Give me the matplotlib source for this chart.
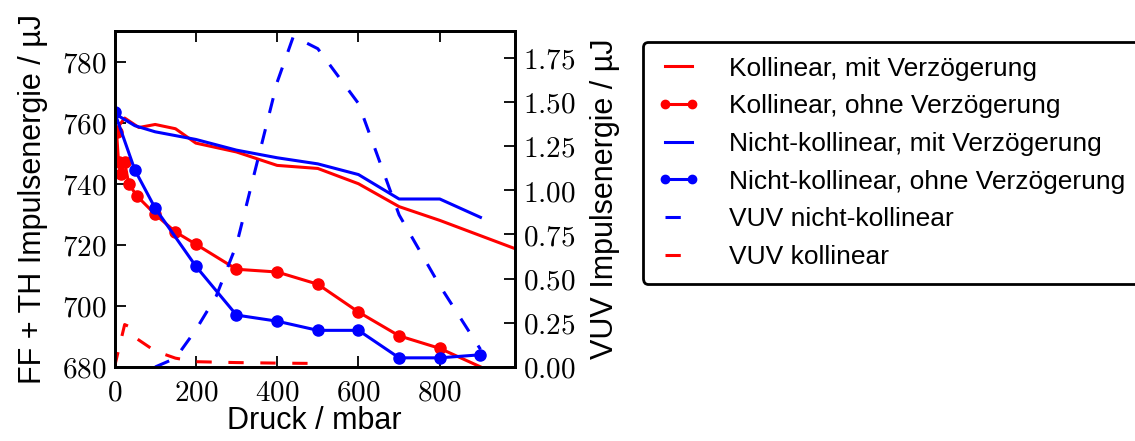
import numpy as np
import matplotlib
matplotlib.use('Agg')
import matplotlib.pyplot as plt
from matplotlib.ticker import MultipleLocator, FuncFormatter

plt.rcParams['font.family'] = ['Liberation Sans', 'DejaVu Sans']
plt.rcParams['mathtext.fontset'] = 'cm'
plt.rcParams['lines.scale_dashes'] = False

# Druck / mbar und Impulsenergien
x_koll_mit = [0, 25, 60, 100, 150, 200, 300, 400, 500, 600, 700, 800, 1000]
y_koll_mit = [757, 761.5, 758.4, 759.4, 758, 753.3, 750.4, 746, 745, 740, 732.5, 728, 718]

x_koll_ohne = [5, 10, 15, 25, 35, 55, 100, 150, 200, 300, 400, 500, 600, 700, 800, 1000]
y_koll_ohne = [757, 747, 743.3, 747, 740, 736, 730, 724.2, 720.2, 712, 711.1, 707.1, 698, 690.2, 686.1, 674]

x_nk_mit = [0, 50, 100, 200, 300, 400, 500, 600, 700, 800, 900]
y_nk_mit = [763, 759, 757, 754.5, 751, 748.5, 746.5, 743, 735, 735, 729]

x_nk_ohne = [0, 50, 100, 200, 300, 400, 500, 600, 700, 800, 900]
y_nk_ohne = [763.5, 744.5, 732, 713, 697, 695, 692, 692, 683, 683, 684]

x_vuv_nk = [100, 150, 200, 250, 300, 350, 400, 440, 500, 600, 700, 800, 900]
y_vuv_nk = [0.0, 0.05, 0.21, 0.40, 0.69, 1.15, 1.61, 1.87, 1.80, 1.49, 0.86, 0.46, 0.1]

x_vuv_k = [0, 25, 35, 55, 100, 150, 200, 300, 400, 500]
y_vuv_k = [0.0, 0.24, 0.23, 0.16, 0.09, 0.05, 0.03, 0.025, 0.022, 0.02]

fig = plt.figure(figsize=(11.35, 4.41), dpi=100)
ax = fig.add_axes([114.5/1135, 74/441, 400.5/1135, 336/441])
ax2 = ax.twinx()

lw = 2.2
ms = 8
l1, = ax.plot(x_koll_mit, y_koll_mit, 'r-', lw=lw, label='Kollinear, mit Verzögerung')
l2, = ax.plot(x_koll_ohne, y_koll_ohne, 'r-', marker='o', ms=ms, mec='r', lw=lw,
              label='Kollinear, ohne Verzögerung')
l3, = ax.plot(x_nk_mit, y_nk_mit, 'b-', lw=lw, label='Nicht-kollinear, mit Verzögerung')
l4, = ax.plot(x_nk_ohne, y_nk_ohne, 'b-', marker='o', ms=ms, mec='b', lw=lw,
              label='Nicht-kollinear, ohne Verzögerung')
l5, = ax2.plot(x_vuv_nk, y_vuv_nk, 'b--', lw=lw, dashes=(11, 12), label='VUV nicht-kollinear')
l6, = ax2.plot(x_vuv_k, y_vuv_k, 'r--', lw=lw, dashes=(11, 12), label='VUV kollinear')

ax.set_xlim(0, 985)
ax.set_ylim(680, 790)
ax2.set_ylim(0, 1.9)

ax.xaxis.set_major_locator(MultipleLocator(200))
ax.yaxis.set_major_locator(MultipleLocator(20))
ax2.yaxis.set_major_locator(MultipleLocator(0.25))
ax.xaxis.set_major_formatter(FuncFormatter(lambda v, p: r'$%d$' % v))
ax.yaxis.set_major_formatter(FuncFormatter(lambda v, p: r'$%d$' % v))
ax2.yaxis.set_major_formatter(FuncFormatter(lambda v, p: r'$%.2f$' % v))

ax.tick_params(axis='x', direction='in', top=True, length=8, width=1.3, labelsize=21, pad=8)
ax.tick_params(axis='y', direction='in', length=8, width=1.3, labelsize=21, pad=6)
ax2.tick_params(axis='y', direction='in', length=8, width=1.3, labelsize=21, pad=6)
for a in (ax, ax2):
    for s in a.spines.values():
        s.set_linewidth(2)

ax.set_xlabel('Druck / mbar', fontsize=22, labelpad=0)
ax.set_ylabel('FF + TH Impulsenergie / µJ', fontsize=22, labelpad=10)
ax2.set_ylabel('VUV Impulsenergie / µJ', fontsize=22, labelpad=10)

leg = fig.legend(handles=[l1, l2, l3, l4, l5, l6], loc='upper left',
                 bbox_to_anchor=(643/1135, 1 - 42/441), borderaxespad=0,
                 fontsize=19, handlelength=1.6, handletextpad=1.1,
                 labelspacing=0.52, borderpad=0.55, fancybox=True, framealpha=1,
                 numpoints=2, markerscale=0.75)
leg.get_frame().set_edgecolor('black')
leg.get_frame().set_linewidth(2)

fig.savefig('out.png', dpi=100)
